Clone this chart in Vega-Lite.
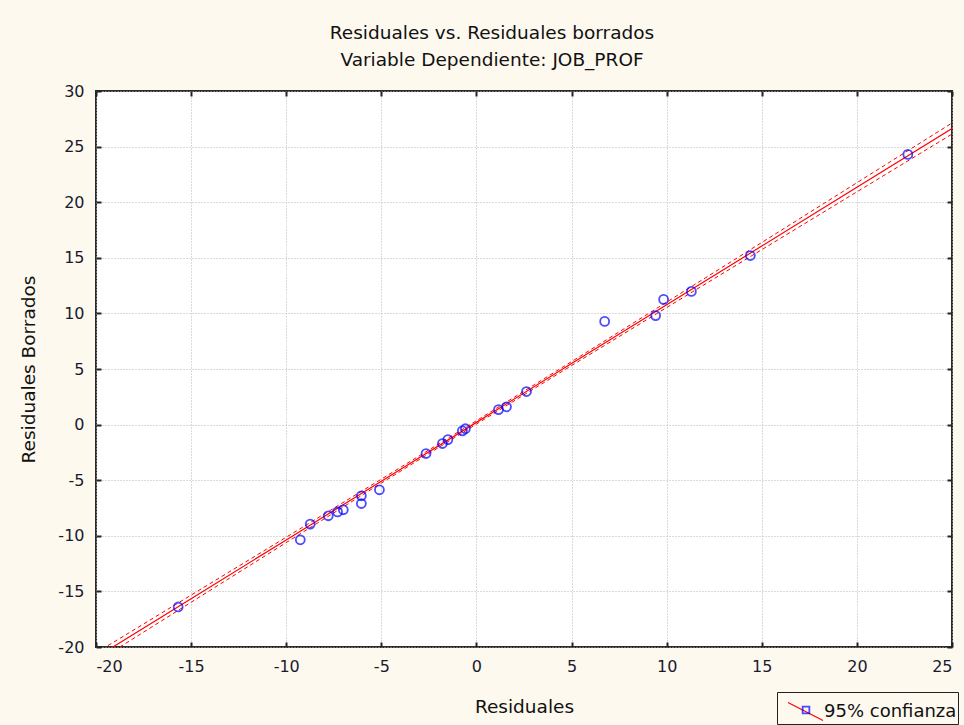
{
  "$schema": "https://vega.github.io/schema/vega-lite/v6.json",
  "width": 856,
  "height": 556,
  "autosize": "none",
  "padding": {"left": 96, "top": 91, "right": 12, "bottom": 78},
  "background": "#fdf9ef",
  "config": {
    "font": "DejaVu Sans",
    "view": {"stroke": "#2a2a2a", "strokeWidth": 2, "fill": "#ffffff"},
    "axis": {
      "labelFont": "DejaVu Sans",
      "labelFontSize": 16,
      "labelColor": "#1a1a2e",
      "titleFont": "DejaVu Sans",
      "titleFontSize": 18.5,
      "titleFontWeight": "normal",
      "titleColor": "#111111",
      "gridColor": "#b4b4b4",
      "gridDash": [1, 2],
      "gridWidth": 1,
      "domain": false,
      "tickColor": "#222222",
      "tickWidth": 2,
      "tickSize": -5
    }
  },
  "resolve": {"axis": {"x": "independent", "y": "independent"}},
  "title": {
    "text": "Residuales vs. Residuales borrados",
    "subtitle": "Variable Dependiente: JOB_PROF",
    "anchor": "middle",
    "dx": -32,
    "font": "DejaVu Sans",
    "subtitleFont": "DejaVu Sans",
    "fontSize": 18.5,
    "fontWeight": "normal",
    "color": "#111111",
    "subtitleFontSize": 18.5,
    "subtitleColor": "#111111",
    "subtitlePadding": 8,
    "offset": 14
  },
  "datasets": {
    "pts": [
      {"res": -15.68, "del": -16.4},
      {"res": -9.26, "del": -10.36},
      {"res": -8.74, "del": -8.95},
      {"res": -7.79, "del": -8.2},
      {"res": -7.3, "del": -7.85},
      {"res": -7.0, "del": -7.66},
      {"res": -6.05, "del": -6.4},
      {"res": -6.05, "del": -7.1},
      {"res": -5.1, "del": -5.86},
      {"res": -2.65, "del": -2.6},
      {"res": -1.79, "del": -1.7},
      {"res": -1.5, "del": -1.35},
      {"res": -0.74, "del": -0.56},
      {"res": -0.58, "del": -0.37},
      {"res": 1.16, "del": 1.35},
      {"res": 1.58, "del": 1.6},
      {"res": 2.63, "del": 2.97},
      {"res": 6.74, "del": 9.28},
      {"res": 9.42, "del": 9.8},
      {"res": 9.84, "del": 11.26},
      {"res": 11.3, "del": 11.98},
      {"res": 14.4, "del": 15.2},
      {"res": 22.68, "del": 24.3}
    ],
    "fit": [
      {"x": -20, "fit": -20.94, "lo": -21.35, "hi": -20.53},
      {"x": -15, "fit": -15.655, "lo": -15.978, "hi": -15.332},
      {"x": -10, "fit": -10.37, "lo": -10.613, "hi": -10.127},
      {"x": -5, "fit": -5.085, "lo": -5.263, "hi": -4.907},
      {"x": 0, "fit": 0.2, "lo": 0.05, "hi": 0.35},
      {"x": 5, "fit": 5.485, "lo": 5.307, "hi": 5.663},
      {"x": 10, "fit": 10.77, "lo": 10.527, "hi": 11.013},
      {"x": 15, "fit": 16.055, "lo": 15.732, "hi": 16.378},
      {"x": 20, "fit": 21.34, "lo": 20.93, "hi": 21.75},
      {"x": 25, "fit": 26.625, "lo": 26.125, "hi": 27.125}
    ]
  },
  "layer": [
    {
      "data": {"name": "fit"},
      "mark": {"type": "line", "color": "#ff0000", "strokeWidth": 1.2, "clip": true},
      "encoding": {
        "x": {"field": "x", "type": "quantitative",
          "scale": {"domain": [-20, 25], "nice": false, "zero": false},
          "axis": {"values": [-20, -15, -10, -5, 0, 5, 10, 15, 20, 25], "labelExpr": "replace(datum.label, '\u2212', '-')", "title": "Residuales", "titlePadding": 23, "labelPadding": 16}},
        "y": {"field": "fit", "type": "quantitative",
          "scale": {"domain": [-20, 30], "nice": false, "zero": false},
          "axis": {"values": [-20, -15, -10, -5, 0, 5, 10, 15, 20, 25, 30], "labelExpr": "replace(datum.label, '\u2212', '-')", "title": "Residuales Borrados", "titlePadding": 19, "labelPadding": 17}},
        "color": {
          "datum": "95% confianza",
          "scale": {"range": ["#ff0000"]},
          "legend": {
            "orient": "none",
            "legendX": 681,
            "legendY": 601,
            "title": null,
            "symbolType": "M-1,-0.51L1,0.51",
            "symbolSize": 1225,
            "symbolOffset": 9,
            "symbolStrokeWidth": 1.2,
            "labelFontSize": 18,
            "labelColor": "#111111",
            "labelFont": "DejaVu Sans",
            "labelOffset": 0,
            "strokeColor": "#222222",
            "fillColor": "#fdf9ef",
            "padding": 1
          }
        }
      }
    },
    {
      "data": {"name": "fit"},
      "mark": {"type": "line", "color": "#ff0000", "strokeWidth": 1, "strokeDash": [4, 3], "clip": true},
      "encoding": {
        "x": {"field": "x", "type": "quantitative",
          "axis": {"orient": "top", "values": [-20, -15, -10, -5, 0, 5, 10, 15, 20, 25], "labels": false, "grid": false, "title": null}},
        "y": {"field": "lo", "type": "quantitative",
          "axis": {"orient": "right", "values": [-20, -15, -10, -5, 0, 5, 10, 15, 20, 25, 30], "labels": false, "grid": false, "title": null}}
      }
    },
    {
      "data": {"name": "fit"},
      "mark": {"type": "line", "color": "#ff0000", "strokeWidth": 1, "strokeDash": [4, 3], "clip": true},
      "encoding": {
        "x": {"field": "x", "type": "quantitative", "axis": null},
        "y": {"field": "hi", "type": "quantitative", "axis": null}
      }
    },
    {
      "data": {"name": "pts"},
      "mark": {"type": "point", "shape": "circle", "filled": false, "size": 80, "strokeWidth": 1.8},
      "encoding": {
        "x": {"field": "res", "type": "quantitative", "axis": null},
        "y": {"field": "del", "type": "quantitative", "axis": null},
        "stroke": {
          "datum": " ",
          "scale": {"range": ["#0000ff"]},
          "legend": {
            "orient": "none",
            "legendX": 705,
            "legendY": 614,
            "title": null,
            "symbolType": "square",
            "symbolSize": 45,
            "symbolStrokeWidth": 1.8,
            "symbolFillColor": "#fdf9ef",
            "labelExpr": "''",
            "padding": 0
          }
        }
      }
    }
  ]
}
